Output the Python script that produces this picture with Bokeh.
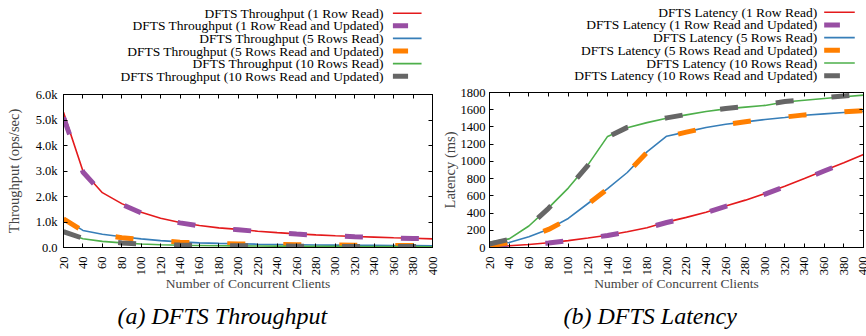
import math
from bokeh.plotting import figure
from bokeh.layouts import row, column
from bokeh.models import Range1d, FixedTicker, LinearAxis, CustomJSTickFormatter, Title
from bokeh.core.properties import value
from bokeh.embed import file_html
from bokeh.resources import INLINE

# ---------------- data ----------------
clients = [20, 40, 60, 80, 100, 120, 140, 160, 180, 200,
           220, 240, 260, 280, 300, 320, 340, 360, 380, 400]
x_tick_labels = ["20", "40", "60", "80", "100", "120", "140", "160", "180", "200",
                 "220", "240", "260", "280", "300", "320", "340", "360", "380", "400"]

# throughput (ops/sec)
thr_1row_read = [5300, 3000, 2150, 1720, 1380, 1150, 980, 860, 770, 710,
                 640, 585, 535, 495, 460, 430, 405, 380, 360, 340]
thr_1row_ru = [5100, 2960, 2120, 1690, 1360, 1130, 965, 845, 755, 695,
               630, 575, 525, 485, 452, 422, 398, 374, 354, 335]
thr_5rows_read = [1150, 670, 520, 420, 340, 270, 220, 180, 160, 145,
                  130, 120, 110, 100, 95, 90, 85, 80, 75, 70]
thr_5rows_ru = [1120, 650, 500, 380, 320, 260, 210, 175, 150, 140,
                130, 120, 110, 100, 95, 90, 85, 80, 75, 70]
thr_10rows_read = [600, 340, 240, 180, 140, 110, 90, 80, 70, 65,
                   60, 55, 50, 47, 44, 41, 38, 36, 34, 32]
thr_10rows_ru = [620, 360, 250, 180, 140, 110, 95, 85, 75, 70,
                 62, 57, 52, 48, 45, 42, 39, 37, 35, 33]

# latency (ms)
lat_1row_read = [5, 20, 35, 55, 80, 110, 143, 183, 230, 295,
                 350, 410, 483, 550, 627, 712, 800, 894, 983, 1080]
lat_1row_ru = [3, 18, 33, 52, 78, 108, 140, 180, 228, 290,
               345, 405, 478, 545, 620, 705, 795, 888, 978, 1075]
lat_5rows_read = [30, 58, 124, 213, 337, 511, 685, 871, 1111, 1293,
                  1343, 1394, 1432, 1459, 1486, 1510, 1536, 1552, 1568, 1583]
lat_5rows_ru = [20, 55, 120, 210, 330, 505, 680, 865, 1105, 1285,
                1340, 1390, 1430, 1460, 1490, 1515, 1540, 1558, 1575, 1590]
lat_10rows_read = [60, 100, 250, 460, 690, 960, 1290, 1390, 1450, 1500,
                   1540, 1580, 1610, 1630, 1650, 1690, 1710, 1730, 1750, 1770]
lat_10rows_ru = [40, 95, 245, 455, 685, 955, 1285, 1395, 1455, 1505,
                 1545, 1585, 1615, 1635, 1660, 1695, 1715, 1740, 1760, 1780]

thr_names = ["DFTS Throughput (1 Row Read)",
             "DFTS Throughput (1 Row Read and Updated)",
             "DFTS Throughput (5 Rows Read)",
             "DFTS Throughput (5 Rows Read and Updated)",
             "DFTS Throughput (10 Rows Read)",
             "DFTS Throughput (10 Rows Read and Updated)"]
lat_names = ["DFTS Latency (1 Row Read)",
             "DFTS Latency (1 Row Read and Updated)",
             "DFTS Latency (5 Rows Read)",
             "DFTS Latency (5 Rows Read and Updated)",
             "DFTS Latency (10 Rows Read)",
             "DFTS Latency (10 Rows Read and Updated)"]

thr_y_ticks = [0, 1000, 2000, 3000, 4000, 5000, 6000]
thr_y_labels = ["0.0", "1.0k", "2.0k", "3.0k", "4.0k", "5.0k", "6.0k"]
lat_y_ticks = [0, 200, 400, 600, 800, 1000, 1200, 1400, 1600, 1800]
lat_y_labels = ["0", "200", "400", "600", "800", "1000", "1200", "1400", "1600", "1800"]

# ---------------- style ----------------
COLORS = ["#e41a1c", "#984ea3", "#377eb8", "#ff7f00", "#4daf4a", "#666666"]
DASHED = [False, True, False, True, False, True]
FONT = "Liberation Serif"
LEG_H = 86
MAIN_H = 336 - LEG_H
W_A = 438
W_B = 866 - W_A


def legend_fig(width, names, text_right, sx0, sx1, dx1, y0, step):
    leg = figure(width=width, height=LEG_H, x_range=Range1d(0, width), y_range=Range1d(LEG_H, 0),
                 x_axis_type=None, y_axis_type=None, toolbar_location=None,
                 output_backend="svg", min_border=0, outline_line_color=None)
    ys = [y0 + i * step for i in range(len(names))]
    leg.text(x=[text_right] * len(names), y=ys, text=names, text_align="right",
             text_baseline="middle", text_font=value(FONT), text_font_size="13.5px",
             text_color="black")
    for i, (c, d) in enumerate(zip(COLORS, DASHED)):
        if d:
            leg.line([sx0, dx1], [ys[i], ys[i]], line_color=c, line_width=5)
        else:
            leg.line([sx0, sx1], [ys[i], ys[i]], line_color=c, line_width=1.6)
    return leg


def style_axis(ax):
    ax.axis_line_color = "black"
    ax.major_tick_line_color = "black"
    ax.major_tick_in = 4
    ax.major_tick_out = 0
    ax.minor_tick_line_color = None
    ax.major_label_text_font = FONT
    ax.major_label_text_font_size = "12.5px"
    ax.major_label_text_color = "black"


def main_fig(width, series, y_ticks, y_labels, ymax, y_label, y_label_standoff,
             y_tick_standoff, caption, cap_offset, b_left, b_right, b_top):
    p = figure(width=width, height=MAIN_H, x_range=Range1d(20, 400), y_range=Range1d(0, ymax),
               toolbar_location=None, output_backend="svg",
               min_border_left=b_left, min_border_right=b_right,
               min_border_top=b_top, min_border_bottom=336 - 247)
    p.grid.visible = False
    p.outline_line_color = "black"
    p.outline_line_width = 1
    p.outline_line_alpha = 1

    for vals, c, d in zip(series, COLORS, DASHED):
        if d:
            p.line(clients, vals, line_color=c, line_width=5, line_dash="18 38")
        else:
            p.line(clients, vals, line_color=c, line_width=1.6)

    xt = FixedTicker(ticks=clients)
    yt = FixedTicker(ticks=y_ticks)

    xa = p.xaxis[0]
    xa.ticker = xt
    xa.major_label_overrides = dict(zip(clients, x_tick_labels))
    xa.major_label_orientation = math.pi / 2
    style_axis(xa)
    xa.major_label_standoff = 9
    xa.axis_label = "Number of Concurrent Clients"
    xa.axis_label_text_font = FONT
    xa.axis_label_text_font_style = "normal"
    xa.axis_label_text_font_size = "13.5px"
    xa.axis_label_standoff = -2

    ya = p.yaxis[0]
    ya.ticker = yt
    ya.major_label_overrides = dict(zip(y_ticks, y_labels))
    style_axis(ya)
    ya.major_label_standoff = y_tick_standoff
    ya.axis_label = y_label
    ya.axis_label_text_font = FONT
    ya.axis_label_text_font_style = "normal"
    ya.axis_label_text_font_size = "14.5px"
    ya.axis_label_standoff = y_label_standoff

    for side, tk in (("above", xt), ("right", yt)):
        ax = LinearAxis(ticker=tk, formatter=CustomJSTickFormatter(code="return ''"))
        style_axis(ax)
        ax.major_label_text_font_size = "0px"
        ax.major_label_standoff = 0
        p.add_layout(ax, side)

    p.add_layout(Title(text=caption, align="left", offset=cap_offset, text_font=FONT,
                       text_font_style="italic", text_font_size="24px",
                       text_color="black", standoff=12), "below")
    return p


leg_a = legend_fig(W_A, thr_names, 380, 391, 425, 409, 12.7, 12.6)
leg_b = legend_fig(W_B, lat_names, 813 - W_A, 821 - W_A, 856 - W_A, 839 - W_A, 11.7, 12.7)

p_a = main_fig(W_A, [thr_1row_read, thr_1row_ru, thr_5rows_read, thr_5rows_ru,
                     thr_10rows_read, thr_10rows_ru],
               thr_y_ticks, thr_y_labels, 6000, "Throughput (ops/sec)", 11, 6,
               "(a) DFTS Throughput", 54, 63, W_A - 432, 94 - LEG_H)
p_b = main_fig(W_B, [lat_1row_read, lat_1row_ru, lat_5rows_read, lat_5rows_ru,
                     lat_10rows_read, lat_10rows_ru],
               lat_y_ticks, lat_y_labels, 1800, "Latency (ms)", 0, 4,
               "(b) DFTS Latency", 74, 487 - W_A, 866 - 863, 92 - LEG_H)

layout = row(column(leg_a, p_a), column(leg_b, p_b))

open("out.html", "w").write(file_html(layout, INLINE))
